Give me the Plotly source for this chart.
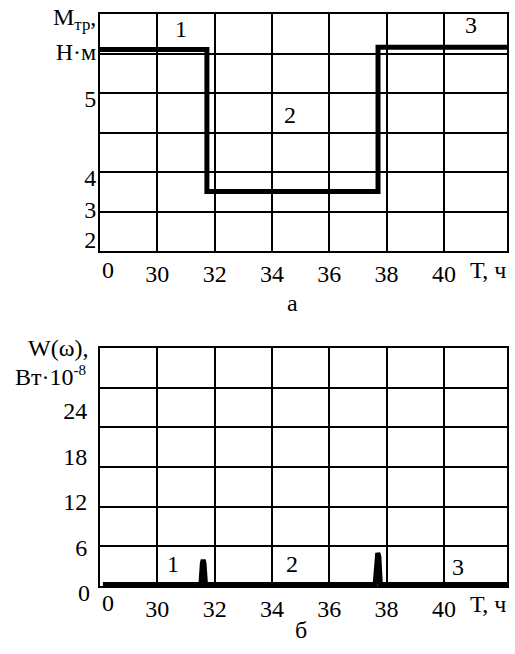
import plotly.graph_objects as go

# ---------------- data ----------------
# time axis (hours); left edge of the plot corresponds to the broken "0"
x_tick_vals = [30, 32, 34, 36, 38, 40]
x_tick_text = ["30", "32", "34", "36", "38", "40"]

# panel a: friction torque step (in grid-row units of the drawn axis)
t_torque = [28.0, 31.73, 31.73, 37.7, 37.7, 42.2]
m_torque = [5.1, 5.1, 1.51, 1.51, 5.16, 5.16]
a_tick_vals = [0.3, 1.06, 1.86, 3.85, 5.06]
a_tick_text = ["2", "3", "4", "5", "Н·м"]

# panel b: power spectrum W (Вт·10^-8)
t_power = [28.1, 31.52, 31.57, 31.6, 31.63, 31.68, 37.6, 37.65, 37.69, 37.73, 37.78, 42.2]
w_power = [1.15, 1.15, 3.9, 4.4, 3.9, 1.15, 1.15, 4.8, 5.3, 4.8, 1.15, 1.15]
b_tick_vals = [6, 12, 18, 24]
b_tick_text = ["6", "12", "18", "24"]

FONT = "'Liberation Serif', 'Times New Roman', 'DejaVu Serif', serif"
FS = 24
W, H = 515, 654

def px(x):
    return x / W

def py(y):
    return 1 - y / H

fig = go.Figure()
fig.add_trace(go.Scatter(x=t_torque, y=m_torque, mode="lines",
                         line=dict(color="black", width=5),
                         xaxis="x", yaxis="y", showlegend=False, hoverinfo="skip"))
fig.add_trace(go.Scatter(x=t_power, y=w_power, mode="lines",
                         line=dict(color="black", width=5),
                         xaxis="x2", yaxis="y2", showlegend=False, hoverinfo="skip"))

axis_common = dict(showline=True, mirror=True, linecolor="black", linewidth=2,
                   ticks="", zeroline=False,
                   tickfont=dict(family=FONT, size=FS, color="black"))

x_common = dict(axis_common, range=[28, 42.2], tickmode="array",
                tickvals=x_tick_vals, ticktext=x_tick_text,
                showgrid=True, gridcolor="black", gridwidth=2)

fig.update_layout(
    width=W, height=H,
    margin=dict(l=0, r=0, t=0, b=0),
    paper_bgcolor="white", plot_bgcolor="white",
    font=dict(family=FONT, size=FS, color="black"),
    xaxis=dict(x_common, domain=[px(100), px(507)], anchor="y"),
    yaxis=dict(axis_common, domain=[py(252), py(14)], anchor="x", range=[0, 6],
               tickmode="array", tickvals=a_tick_vals, ticktext=a_tick_text,
               showgrid=False, ticklabelstandoff=-3,
               minor=dict(tick0=0, dtick=1, showgrid=True, gridcolor="black", gridwidth=2)),
    xaxis2=dict(x_common, domain=[px(100), px(507)], anchor="y2"),
    yaxis2=dict(axis_common, domain=[py(588), py(349)], anchor="x2", range=[0.92, 32.28],
                tickmode="array", tickvals=b_tick_vals, ticktext=b_tick_text,
                showgrid=False, ticklabelstandoff=6,
                minor=dict(tick0=0.92, dtick=5.227, showgrid=True, gridcolor="black", gridwidth=2)),
)

def ann(text, x, y, xref="paper", yref="paper", xanchor="center", yanchor="middle", size=FS):
    fig.add_annotation(text=text, x=x, y=y, xref=xref, yref=yref, showarrow=False,
                       xanchor=xanchor, yanchor=yanchor,
                       font=dict(family=FONT, size=size, color="black"))

# axis titles
ann("M<sub>тр</sub>,", px(98), py(19), xanchor="right")
ann("W(ω),", px(90), py(349), xanchor="right")
ann("Вт·10<sup><span style='font-size:15px'>-8</span></sup>", px(88), py(377), xanchor="right")
ann("Т, ч", px(488), py(271))
ann("Т, ч", px(488), py(606))
ann("0", px(108), py(271))
ann("0", px(108), py(605))
ann("0", px(84), py(595))

# region numbers
ann("1", 30.83, 5.62, "x", "y")
ann("2", 34.63, 3.45, "x", "y")
ann("3", 40.95, 5.72, "x", "y")
ann("1", 30.55, 3.8, "x2", "y2")
ann("2", 34.7, 3.9, "x2", "y2")
ann("3", 40.5, 3.4, "x2", "y2")

# panel captions
ann("а", px(292), py(304))
ann("б", px(301), py(632))

fig.write_html("out.html", config={"displayModeBar": False},
               post_script="document.body.style.margin='0';")
